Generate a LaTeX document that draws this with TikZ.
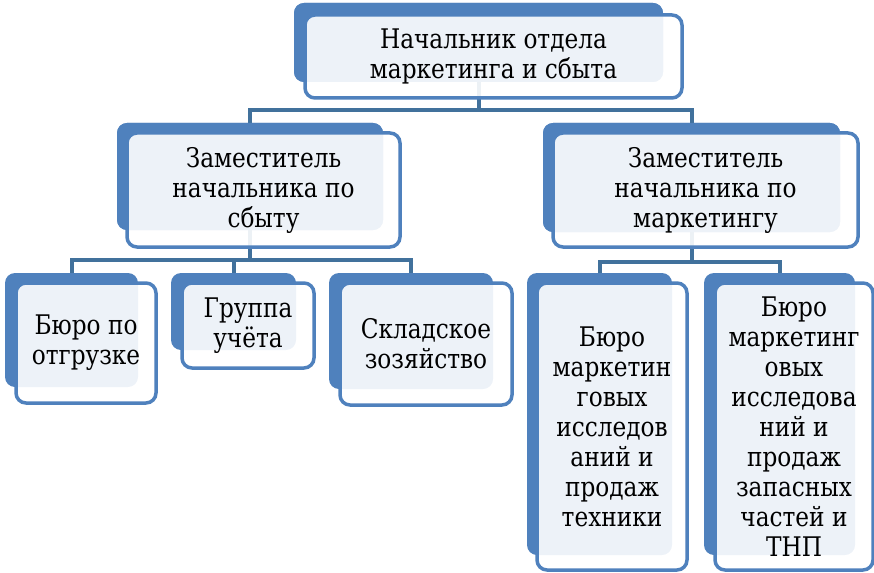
\documentclass[tikz,border=0pt]{standalone}
\usepackage{fontspec}
\setmainfont{DejaVu Serif}[FakeStretch=0.86]
\definecolor{bblue}{HTML}{4F81BD}
\definecolor{cblue}{HTML}{41719C}
\tikzset{
  backbox/.style={draw=none, fill=bblue, rounded corners=10pt, inner sep=0pt},
  frontbox/.style={draw=bblue, line width=3.5pt, fill=white, fill opacity=0.9, text opacity=1, rounded corners=10pt, inner sep=0pt},
  lbl/.style={align=center, inner sep=0pt, font=\fontsize{27}{30}\selectfont, text=black},
  conn/.style={draw=cblue, line width=4pt},
}
\begin{document}
\begin{tikzpicture}[x=1pt,y=-1pt]
\useasboundingbox (0,0) rectangle (874,572);
% back boxes
\node[backbox, minimum width=369pt, minimum height=79pt] (tb) at (478.5,42.5) {};
\node[backbox, minimum width=266pt, minimum height=107pt] (lb) at (250,176.5) {};
\node[backbox, minimum width=297pt, minimum height=109pt] (rb) at (691.5,177.5) {};
\node[backbox, minimum width=133pt, minimum height=114pt] (b1b) at (71.5,330) {};
\node[backbox, minimum width=125pt, minimum height=77pt] (b2b) at (233.5,311.5) {};
\node[backbox, minimum width=164pt, minimum height=116pt] (b3b) at (411,331) {};
\node[backbox, minimum width=145pt, minimum height=282pt] (b4b) at (599.5,414) {};
\node[backbox, minimum width=151pt, minimum height=282pt] (b5b) at (779.5,414) {};
% connectors
\draw[conn] (tb.south) -- ++(0,28) coordinate (tj) -| (lb.north);
\draw[conn] (tj) -| (rb.north);
\draw[conn] (lb.south) -- ++(0,30) coordinate (lj) -| (b1b.north);
\draw[conn] (lj) -| (b2b.north);
\draw[conn] (lj) -| (b3b.north);
\draw[conn] (rb.south) -- ++(0,30) coordinate (rj) -| (b4b.north);
\draw[conn] (rj) -| (b5b.north);
% redraw back boxes over connector ends
\node[backbox, minimum width=369pt, minimum height=79pt] at (478.5,42.5) {};
\node[backbox, minimum width=266pt, minimum height=107pt] at (250,176.5) {};
\node[backbox, minimum width=297pt, minimum height=109pt] at (691.5,177.5) {};
% front boxes
\node[frontbox, minimum width=377pt, minimum height=83pt] (tf) at (493.5,56.5) {};
\node[frontbox, minimum width=273pt, minimum height=114pt] (lf) at (263.5,190) {};
\node[frontbox, minimum width=305pt, minimum height=114pt] (rf) at (705.5,190) {};
\node[frontbox, minimum width=140pt, minimum height=120pt] (b1f) at (86,343) {};
\node[frontbox, minimum width=132pt, minimum height=85pt] (b2f) at (248,325.5) {};
\node[frontbox, minimum width=172pt, minimum height=122pt] (b3f) at (426,344) {};
\node[frontbox, minimum width=150pt, minimum height=287pt] (b4f) at (612,426.5) {};
\node[frontbox, minimum width=158pt, minimum height=287pt] (b5f) at (794,426.5) {};
% labels
\node[lbl] (tt) at (tf.center) {Начальник отдела\\маркетинга и сбыта};
\node[lbl] (lt) at (lf.center) {Заместитель\\начальника по\\сбыту};
\node[lbl] (rt) at (rf.center) {Заместитель\\начальника по\\маркетингу};
\node[lbl] (b1t) at (b1f.center) {Бюро по\\отгрузке};
\node[lbl] (b2t) at (b2f.center) {Группа\\учёта};
\node[lbl] (b3t) at (b3f.center) {Складское\\зозяйство};
\node[lbl] (b4t) at (b4f.center) {Бюро\\маркетин\\говых\\исследов\\аний и\\продаж\\техники};
\node[lbl] (b5t) at (b5f.center) {Бюро\\маркетинг\\овых\\исследова\\ний и\\продаж\\запасных\\частей и\\ТНП};
\end{tikzpicture}
\end{document}
